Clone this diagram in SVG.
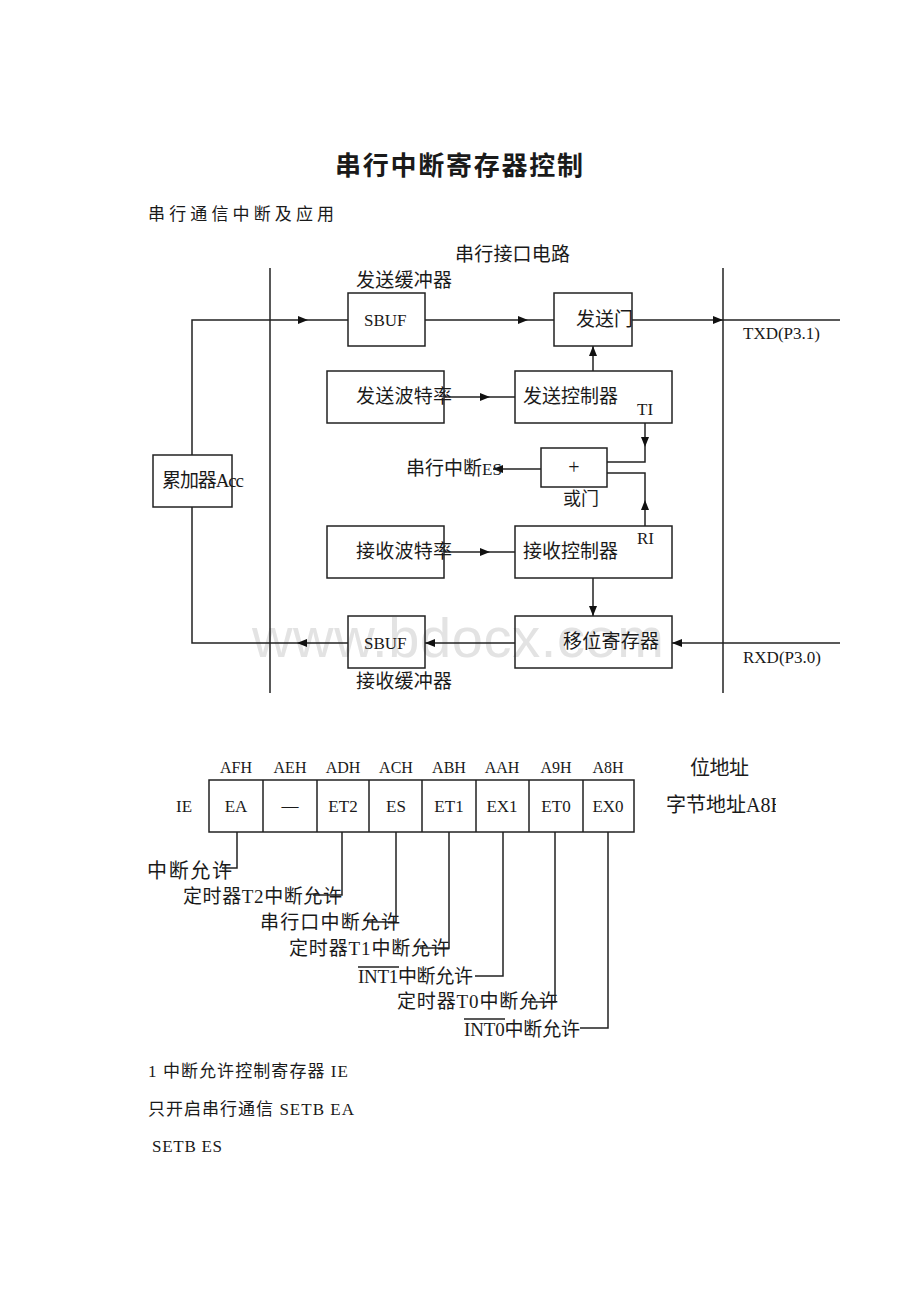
<svg xmlns="http://www.w3.org/2000/svg" width="920" height="1302" viewBox="0 0 920 1302">
<style>
.t{font-family:"Liberation Serif","Noto Sans CJK SC",serif;fill:#1a1a1a}
.c{font-family:"Noto Sans CJK SC","Liberation Serif",sans-serif;fill:#1a1a1a}
.box{fill:none;stroke:#222;stroke-width:1.5}
.ln{fill:none;stroke:#222;stroke-width:1.5}
.arr{marker-end:url(#ah)}
</style>
<defs>
<marker id="ah" viewBox="0 0 10 8" refX="10" refY="4" markerWidth="10" markerHeight="8" markerUnits="userSpaceOnUse" orient="auto">
<path d="M0,0 L10,4 L0,8 z" fill="#111"/>
</marker>
<clipPath id="clipA8"><rect x="600" y="780" width="176" height="50"/></clipPath>
</defs>
<rect width="920" height="1302" fill="#fff"/>
<text x="252" y="657" font-family="Liberation Sans,Arial,sans-serif" font-size="56" fill="#e3e3e3" textLength="412">www.bdocx.com</text>

<g id="header">
<text class="c" x="335" y="175" font-size="26" font-weight="bold" textLength="248">串行中断寄存器控制</text>
<text class="c" x="148" y="220" font-size="17" textLength="186">串行通信中断及应用</text>
</g>

<g id="buses">
<text class="c" x="455" y="261" font-size="19" textLength="115">串行接口电路</text>
<line class="ln" x1="270" y1="268" x2="270" y2="693"/>
<line class="ln" x1="723" y1="268" x2="723" y2="693"/>
</g>

<g id="connectors">
<path class="ln arr" d="M192,455 V320 H308"/>
<path class="ln" d="M308,320 H348"/>
<path class="ln arr" d="M425,320 H528"/>
<path class="ln" d="M528,320 H554"/>
<path class="ln arr" d="M632,320 H723"/>
<path class="ln" d="M723,320 H840"/>
<path class="ln arr" d="M593,371 V346"/>
<path class="ln arr" d="M444,397 H490"/>
<path class="ln" d="M490,397 H515"/>
<path class="ln arr" d="M645,423 V447"/>
<path class="ln" d="M645,447 V462 H607"/>
<path class="ln arr" d="M645,526 V500"/>
<path class="ln" d="M645,500 V473 H607"/>
<path class="ln arr" d="M541,469 H493"/>
<path class="ln arr" d="M444,552 H490"/>
<path class="ln" d="M490,552 H515"/>
<path class="ln arr" d="M593,578 V616"/>
<path class="ln arr" d="M840,643 H672"/>
<path class="ln arr" d="M515,643 H425"/>
<path class="ln arr" d="M348,643 H297"/>
<path class="ln" d="M297,643 H192 V507"/>
</g>

<g id="acc">
<rect class="box" x="153" y="455" width="79" height="52"/>
<text class="t" x="162" y="487" font-size="19" textLength="82">累加器Acc</text>
</g>

<g id="sbuf-tx">
<text class="c" x="356" y="287" font-size="19" textLength="96">发送缓冲器</text>
<rect class="box" x="348" y="293" width="77" height="53"/>
<text class="t" x="364" y="326" font-size="17">SBUF</text>
</g>

<g id="tx-gate">
<rect class="box" x="554" y="293" width="78" height="53"/>
<text class="c" x="576" y="326" font-size="19">发送门</text>
</g>

<g id="txd">
<text class="t" x="743" y="339" font-size="17">TXD(P3.1)</text>
</g>

<g id="tx-baud">
<rect class="box" x="327" y="371" width="117" height="52"/>
<text class="c" x="356" y="403" font-size="19" textLength="96">发送波特率</text>
</g>

<g id="tx-ctrl">
<rect class="box" x="515" y="371" width="157" height="52"/>
<text class="c" x="523" y="403" font-size="19" textLength="95">发送控制器</text>
<text class="t" x="637" y="415" font-size="17">TI</text>
</g>

<g id="or-gate">
<rect class="box" x="541" y="448" width="66" height="39"/>
<text class="t" x="574" y="474" font-size="20" text-anchor="middle">+</text>
<text class="c" x="563" y="505" font-size="18">或门</text>
</g>

<g id="serial-int">
<text class="c" x="406" y="475" font-size="19" textLength="76">串行中断</text>
<text class="t" x="482" y="475" font-size="17">ES</text>
</g>

<g id="rx-baud">
<rect class="box" x="327" y="526" width="117" height="52"/>
<text class="c" x="356" y="558" font-size="19" textLength="96">接收波特率</text>
</g>

<g id="rx-ctrl">
<rect class="box" x="515" y="526" width="157" height="52"/>
<text class="c" x="523" y="558" font-size="19" textLength="95">接收控制器</text>
<text class="t" x="637" y="544" font-size="17">RI</text>
</g>

<g id="shift-reg">
<rect class="box" x="515" y="616" width="157" height="52"/>
<text class="c" x="563" y="648" font-size="19" textLength="96">移位寄存器</text>
</g>

<g id="sbuf-rx">
<rect class="box" x="348" y="616" width="77" height="52"/>
<text class="t" x="364" y="649" font-size="17">SBUF</text>
<text class="c" x="356" y="688" font-size="19" textLength="96">接收缓冲器</text>
</g>

<g id="rxd">
<text class="t" x="743" y="663" font-size="17">RXD(P3.0)</text>
</g>

<g id="ie-table">
<g class="t" font-size="16" text-anchor="middle">
<text x="236" y="773">AFH</text>
<text x="290" y="773">AEH</text>
<text x="343" y="773">ADH</text>
<text x="396" y="773">ACH</text>
<text x="449" y="773">ABH</text>
<text x="502" y="773">AAH</text>
<text x="556" y="773">A9H</text>
<text x="608" y="773">A8H</text>
</g>
<text class="t" x="176" y="812" font-size="17">IE</text>
<rect class="box" x="209" y="780" width="425" height="52"/>
<path class="ln" d="M263,780 V832 M317,780 V832 M369,780 V832 M422,780 V832 M476,780 V832 M529,780 V832 M583,780 V832"/>
<g class="t" font-size="17" text-anchor="middle">
<text x="236" y="812">EA</text>
<text x="290" y="811">—</text>
<text x="343" y="812">ET2</text>
<text x="396" y="812">ES</text>
<text x="449" y="812">ET1</text>
<text x="502" y="812">EX1</text>
<text x="556" y="812">ET0</text>
<text x="608" y="812">EX0</text>
</g>
<text class="c" x="690" y="775" font-size="20" textLength="59">位地址</text>
<text class="t" x="666" y="812" font-size="20" clip-path="url(#clipA8)">字节地址A8H</text>
</g>

<g id="ie-bit-labels">
<text class="c" x="147" y="878" font-size="20" textLength="85">中断允许</text>
<text class="t" x="183" y="903" font-size="19" textLength="159">定时器T2中断允许</text>
<text class="c" x="260" y="929" font-size="19" textLength="140">串行口中断允许</text>
<text class="t" x="289" y="955" font-size="19" textLength="161">定时器T1中断允许</text>
<text class="t" x="358" y="983" font-size="19" textLength="115">INT1中断允许</text>
<line class="ln" x1="358" y1="967" x2="399" y2="967" stroke-width="1.2"/>
<text class="t" x="397" y="1008" font-size="19" textLength="161">定时器T0中断允许</text>
<text class="t" x="464" y="1036" font-size="19" textLength="116">INT0中断允许</text>
<line class="ln" x1="464" y1="1019" x2="505" y2="1019" stroke-width="1.2"/>
</g>

<g id="ie-connectors">
<path class="ln" d="M237,832 V868 H222"/>
<path class="ln" d="M342,832 V895 H313"/>
<path class="ln" d="M396,832 V922 H367"/>
<path class="ln" d="M449,832 V948 H420"/>
<path class="ln" d="M503,832 V976 H475"/>
<path class="ln" d="M555,832 V1002 H528"/>
<path class="ln" d="M608,832 V1028 H580"/>
</g>

<g id="footer">
<text class="t" x="148" y="1077" font-size="17" textLength="200">1 中断允许控制寄存器 IE</text>
<text class="t" x="148" y="1115" font-size="17" textLength="206">只开启串行通信 SETB EA</text>
<text class="t" x="152" y="1152" font-size="17" textLength="70">SETB ES</text>
</g>
</svg>
